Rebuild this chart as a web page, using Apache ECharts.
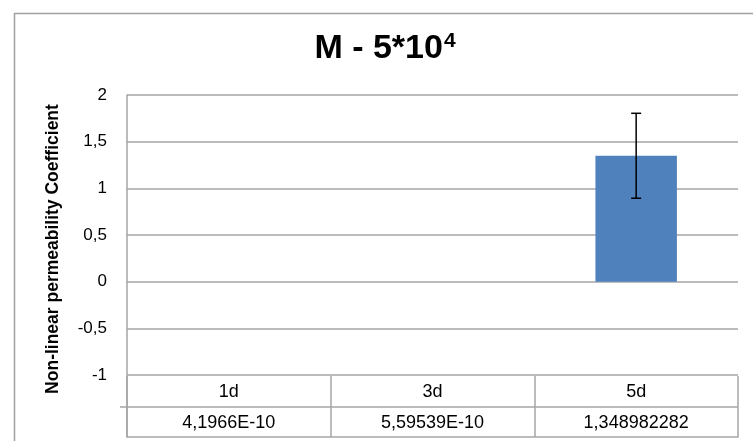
<!DOCTYPE html>
<html><head><meta charset="utf-8">
<script src="https://cdn.jsdelivr.net/npm/echarts@6/dist/echarts.min.js"></script>
<style>html,body{margin:0;padding:0;background:#fff}#c{width:753px;height:441px}</style>
</head><body><div id="c"></div>
<script>
const categories = ['1d', '3d', '5d'];
const values = [4.1966e-10, 5.59539e-10, 1.348982282];
const tableLabels = ['4,1966E-10', '5,59539E-10', '1,348982282'];
const errors = [0, 0, 0.455];
const yTicks = {min: -1, max: 2, interval: 0.5};

const FONT = 'Liberation Sans';
const gridColor = '#a6a6a6';
const chart = echarts.init(document.getElementById('c'));
const fmt = v => String(v).replace('.', ',');

chart.setOption({
  animation: false,
  backgroundColor: '#fff',
  title: {
    text: '{t|M - 5*10}{s|4}',
    left: 380, top: 26, textAlign: 'center',
    textStyle: {
      rich: {
        t: {fontFamily: FONT, fontWeight: 'bold', fontSize: 34, color: '#000'},
        s: {fontFamily: FONT, fontWeight: 'bold', fontSize: 21, color: '#000', verticalAlign: 'top', padding: [0,0,14,1]}
      }
    }
  },
  graphic: [{
    type: 'rect', left: 12, top: 11, shape: {width: 800, height: 500},
    style: {fill: 'none', stroke: '#a0a0a0', lineWidth: 1.5}, silent: true
  }],
  grid: [
    {left: 127, right: 15, top: 95, height: 280},
    {left: 127, right: 15, top: 376, height: 61}
  ],
  xAxis: [
    {gridIndex: 0, type: 'category', data: categories, axisLine: {show: false}, axisTick: {show: false}, axisLabel: {show: false}},
    {gridIndex: 1, type: 'category', data: categories, axisLine: {show: true, lineStyle: {color: gridColor, width: 1.5}}, axisTick: {show: false}, axisLabel: {show: false},
      splitLine: {show: true, interval: 0, lineStyle: {color: gridColor, width: 1.5}}}
  ],
  yAxis: [
    {gridIndex: 0, type: 'value', min: yTicks.min, max: yTicks.max, interval: yTicks.interval,
      name: 'Non-linear permeability Coefficient', nameLocation: 'middle', nameGap: 65,
      nameTextStyle: {fontFamily: FONT, fontWeight: 'bold', fontSize: 17.5, color: '#000', padding: [0, 28, 0, 0]},
      axisLine: {show: true, lineStyle: {color: gridColor, width: 1.5}}, axisTick: {show: false},
      axisLabel: {formatter: fmt, fontFamily: FONT, fontSize: 17, color: '#000', margin: 20},
      splitLine: {show: true, lineStyle: {color: gridColor, width: 1.5}}},
    {gridIndex: 1, type: 'value', min: 0, max: 2, interval: 1,
      axisLine: {show: true, lineStyle: {color: gridColor, width: 1.5}},
      axisTick: {show: true, customValues: [1], length: 7, lineStyle: {color: gridColor, width: 1.5}},
      axisLabel: {show: false},
      splitLine: {show: true, lineStyle: {color: gridColor, width: 1.5}}}
  ],
  series: [
    {type: 'bar', xAxisIndex: 0, yAxisIndex: 0, data: values, barWidth: '40%',
      itemStyle: {color: '#4f81bd'}},
    {type: 'custom', xAxisIndex: 0, yAxisIndex: 0, z: 5,
      data: values.map((v, i) => [i, v - errors[i], v + errors[i], errors[i]]),
      renderItem: (params, api) => {
        if (api.value(3) === 0) return null;
        const lo = api.coord([api.value(0), api.value(1)]);
        const hi = api.coord([api.value(0), api.value(2)]);
        const w = 5;
        const st = {stroke: '#000', lineWidth: 1.5};
        return {type: 'group', children: [
          {type: 'line', shape: {x1: lo[0], y1: lo[1], x2: hi[0], y2: hi[1]}, style: st},
          {type: 'line', shape: {x1: lo[0]-w, y1: lo[1], x2: lo[0]+w, y2: lo[1]}, style: st},
          {type: 'line', shape: {x1: hi[0]-w, y1: hi[1], x2: hi[0]+w, y2: hi[1]}, style: st}
        ]};
      }},
    {type: 'custom', xAxisIndex: 1, yAxisIndex: 1,
      data: categories.map((c, i) => [i, 1.5, c]).concat(tableLabels.map((t, i) => [i, 0.5, t])),
      renderItem: (params, api) => {
        const p = api.coord([api.value(0), api.value(1)]);
        const d = params.dataIndex;
        const txt = d < categories.length ? categories[d] : tableLabels[d - categories.length];
        return {type: 'text', x: p[0], y: p[1] + 1,
          style: {text: txt, align: 'center', verticalAlign: 'middle', fontFamily: FONT, fontSize: 18, fill: '#000'}};
      }}
  ]
});
</script></body></html>
